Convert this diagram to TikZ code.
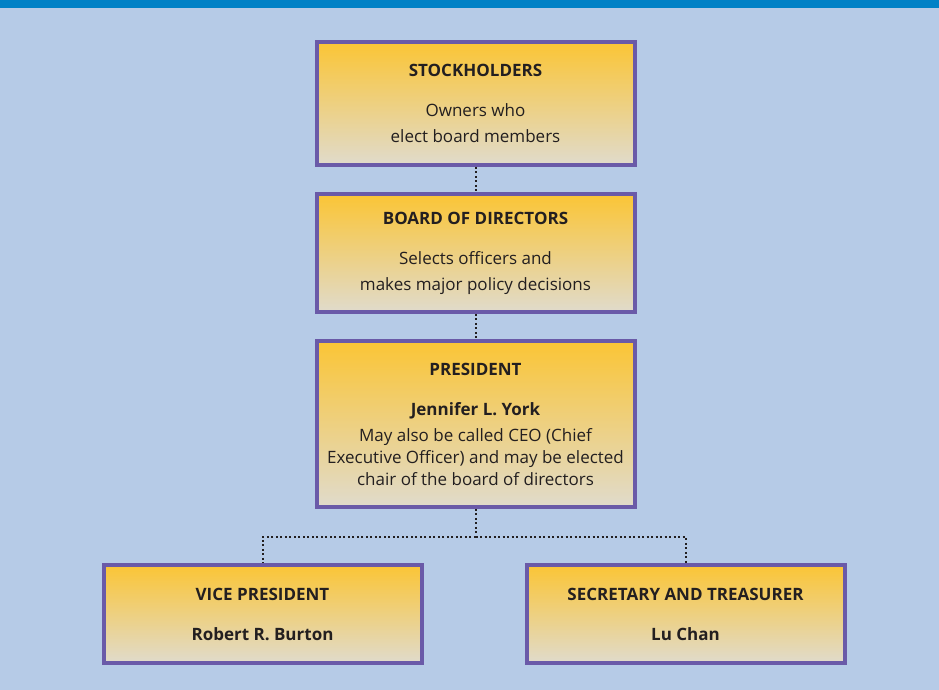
\documentclass[tikz,border=0pt]{standalone}
\usepackage{fontspec}
\setmainfont{Open Sans}
\usetikzlibrary{positioning}
\definecolor{pagebg}{HTML}{B6CBE7}
\definecolor{topbar}{HTML}{0081C6}
\definecolor{boxline}{HTML}{6A5AA8}
\definecolor{boxtop}{HTML}{FBC535}
\definecolor{boxbottom}{HTML}{E0DBCC}
\definecolor{inkgray}{HTML}{231F20}
\tikzset{
    orgbox/.style={draw=boxline, line width=4pt, top color=boxtop, bottom color=boxbottom,
        minimum width=318pt, inner sep=0pt, align=center, text=inkgray,
        font=\fontsize{17}{22}\selectfont},
    orglink/.style={draw=inkgray, line width=2pt, dash pattern=on 2pt off 2.5pt},
}

\begin{document}
\begin{tikzpicture}[x=1pt, y=1pt, node distance=25pt]
\fill[pagebg] (0,0) rectangle (939,690);
\fill[topbar] (0,682) rectangle (939,690);
\useasboundingbox (0,0) rectangle (939,690);

\node[orgbox, minimum height=123pt] (stock) at (475.5,586.5)
    {\textbf{STOCKHOLDERS}\\[18pt]
     Owners who\\[4pt]
     elect board members};
\node[orgbox, minimum height=118pt, below=of stock] (board)
    {\textbf{BOARD OF DIRECTORS}\\[18pt]
     Selects officers and\\[4pt]
     makes major policy decisions};
\node[orgbox, minimum height=166pt, below=of board] (pres)
    {\textbf{PRESIDENT}\\[18pt]
     \textbf{Jennifer L. York}\\[4pt]
     May also be called CEO (Chief\\
     Executive Officer) and may be elected\\
     chair of the board of directors};
\node[orgbox, minimum height=98pt, below=54pt of pres, xshift=-213pt] (vp)
    {\textbf{VICE PRESIDENT}\\[18pt]
     \textbf{Robert R. Burton}};
\node[orgbox, minimum height=98pt, below=54pt of pres, xshift=210pt] (sec)
    {\textbf{SECRETARY AND TREASURER}\\[18pt]
     \textbf{Lu Chan}};

\coordinate (split) at ([yshift=-28pt]pres.south);
\draw[orglink] (stock.south) -- (board.north);
\draw[orglink] (board.south) -- (pres.north);
\draw[orglink] (pres.south) -- (split);
\draw[orglink] (split) -| (vp.north);
\draw[orglink] (split) -| (sec.north);
\end{tikzpicture}
\end{document}
